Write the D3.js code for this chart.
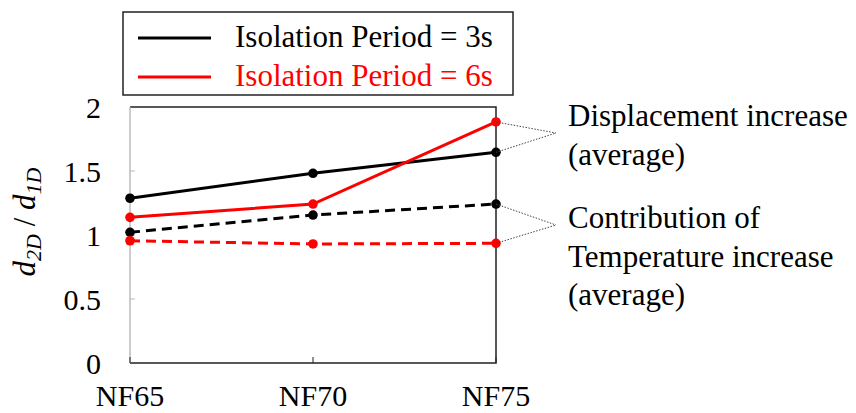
<!DOCTYPE html>
<html>
<head>
<meta charset="utf-8">
<script src="https://cdn.jsdelivr.net/npm/d3@7"></script>
</head>
<body style="margin:0">
<script>
  // categories and series
  const categories = ["NF65", "NF70", "NF75"];
  const disp3s = [1.287, 1.482, 1.646];   // black solid
  const disp6s = [1.138, 1.242, 1.883];   // red solid
  const temp3s = [1.021, 1.156, 1.242];   // black dashed
  const temp6s = [0.955, 0.930, 0.935];   // red dashed
  const yTicks = [0, 0.5, 1, 1.5, 2];
  const legendLabels = ["Isolation Period = 3s", "Isolation Period = 6s"];

  const W = 856, H = 413;
  const FONT = "'Liberation Serif', 'Times New Roman', serif";
  const margin = { left: 130, right: 360, top: 107, bottom: 50 };

  const svg = d3.select("body").append("svg").attr("width", W).attr("height", H);

  const x = d3.scalePoint().domain(categories).range([margin.left, W - margin.right]).padding(0);
  const y = d3.scaleLinear().domain([0, 2]).range([H - margin.bottom, margin.top]);

  const x0 = x.range()[0], x1 = x.range()[1];
  const y0 = y(0), y1 = y(2);

  // helper so every label gets the same serif face
  function label(sel, size) {
    return sel.style("font-family", FONT).attr("font-size", size);
  }

  // frame: top/right/bottom black, left axis grey
  svg.append("path")
    .attr("d", `M${x0},${y1}H${x1}V${y0}H${x0}`)
    .attr("fill", "none").attr("stroke", "#222").attr("stroke-width", 1.5);
  svg.append("line").attr("x1", x0).attr("x2", x0).attr("y1", y1).attr("y2", y0)
    .attr("stroke", "#bbb").attr("stroke-width", 1.5);

  // y ticks (inward) + labels
  yTicks.forEach(t => {
    if (t > 0 && t < 2) {
      svg.append("line").attr("x1", x0).attr("x2", x0 + 5).attr("y1", y(t)).attr("y2", y(t))
        .attr("stroke", "#bbb").attr("stroke-width", 1);
    }
    label(svg.append("text"), 30).attr("x", 101).attr("y", y(t)).attr("dy", "0.35em")
      .attr("text-anchor", "end").text(t);
  });

  // x ticks (inward) + labels
  categories.forEach(c => {
    svg.append("line").attr("x1", x(c)).attr("x2", x(c)).attr("y1", y0).attr("y2", y0 - 6)
      .attr("stroke", "#222").attr("stroke-width", 1);
    label(svg.append("text"), 30).attr("x", x(c)).attr("y", 406)
      .attr("text-anchor", "middle").text(c);
  });

  // y axis title: d_2D / d_1D
  const yt = label(svg.append("text"), 31)
    .attr("transform", `translate(35,222) rotate(-90)`)
    .attr("text-anchor", "middle").attr("font-style", "italic");
  yt.append("tspan").text("d");
  yt.append("tspan").attr("dy", 6).attr("font-size", 22).text("2D");
  yt.append("tspan").attr("dy", -6).attr("font-style", "normal").text(" / ");
  yt.append("tspan").text("d");
  yt.append("tspan").attr("dy", 6).attr("font-size", 22).text("1D");

  const line = d3.line().x((d, i) => x(categories[i])).y(d => y(d));

  const series = [
    { vals: temp3s, color: "#000", dash: "10,6" },
    { vals: temp6s, color: "#ff0000", dash: "10,6" },
    { vals: disp3s, color: "#000", dash: null },
    { vals: disp6s, color: "#ff0000", dash: null }
  ];

  series.forEach(s => {
    svg.append("path").datum(s.vals).attr("d", line)
      .attr("fill", "none").attr("stroke", s.color).attr("stroke-width", 3)
      .attr("stroke-dasharray", s.dash);
    svg.selectAll(null).data(s.vals).enter().append("circle")
      .attr("cx", (d, i) => x(categories[i])).attr("cy", d => y(d))
      .attr("r", 4.8).attr("fill", s.color);
  });

  // annotation leader lines
  const last = categories.length - 1;
  const notes = [
    { from: [disp6s[last], disp3s[last]], tip: [556, 133], lines: ["Displacement increase", "(average)"], ty: 126 },
    { from: [temp3s[last], temp6s[last]], tip: [556, 225], lines: ["Contribution of", "Temperature increase", "(average)"], ty: 228 }
  ];
  notes.forEach(n => {
    n.from.forEach(v => {
      svg.append("line").attr("x1", x1).attr("y1", y(v)).attr("x2", n.tip[0]).attr("y2", n.tip[1])
        .attr("stroke", "#444").attr("stroke-width", 1).attr("stroke-dasharray", "1.5,1.5");
    });
    n.lines.forEach((t, i) => {
      label(svg.append("text"), 31).attr("x", 568).attr("y", n.ty + i * 38.5).text(t);
    });
  });

  // legend
  const lg = svg.append("g");
  lg.append("rect").attr("x", 123).attr("y", 12).attr("width", 390).attr("height", 83)
    .attr("fill", "#fff").attr("stroke", "#222").attr("stroke-width", 1.5);
  [["#000", 38], ["#ff0000", 77]].forEach(([c, ly], i) => {
    lg.append("line").attr("x1", 138).attr("x2", 211).attr("y1", ly).attr("y2", ly)
      .attr("stroke", c).attr("stroke-width", 3);
    label(lg.append("text"), 31).attr("x", 235).attr("y", ly + 9)
      .attr("fill", c).text(legendLabels[i]);
  });
</script>
</body>
</html>
